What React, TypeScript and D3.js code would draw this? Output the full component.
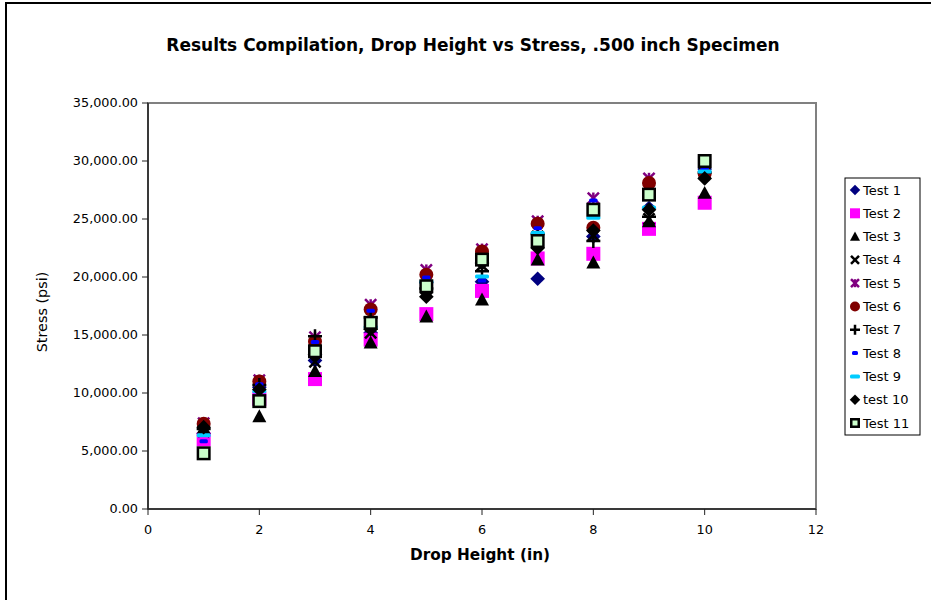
import React from "react";
import * as d3 from "d3";

// Drop heights (in) and measured stress (psi) per test run
const heights = [1, 2, 3, 4, 5, 6, 7, 8, 9, 10];
const test1 = [6500, 10500, 12800, 15200, 19500, 19600, 19850, 23500, 25950, 29300];
const test2 = [6000, 9500, 11200, 14600, 16800, 18800, 21600, 22000, 24150, 26400];
const test3 = [7000, 8000, 11900, 14350, 16600, 18050, 21500, 21250, 24800, 27250];
const test4 = [6700, 10600, 12700, 15200, 19000, 21000, 23500, 23600, 25000, 29000];
const test5 = [7400, 11100, 14800, 17600, 20600, 22400, 24800, 26800, 28500, 29300];
const test6 = [7350, 11000, 14450, 17200, 20200, 22200, 24600, 24250, 28100, 28900];
const test7 = [6900, 10700, 14900, 16500, 19000, 20500, 23700, 23100, 25200, 29000];
const test8 = [5850, 10750, 14400, 17100, 19950, 19700, 24200, 26600, 27500, 29300];
const test9 = [6350, 10150, 13200, 15700, 19600, 20050, 23800, 25100, 26000, 29100];
const test10 = [7050, 10300, 13300, 15500, 18300, 21200, 22500, 24000, 25800, 28500];
const test11 = [4800, 9300, 13600, 16050, 19200, 21500, 23100, 25800, 27100, 30000];

const seriesNames = ["Test 1", "Test 2", "Test 3", "Test 4", "Test 5", "Test 6", "Test 7", "Test 8", "Test 9", "test 10", "Test 11"];
const seriesValues = [test1, test2, test3, test4, test5, test6, test7, test8, test9, test10, test11];
const markerKinds = ["diamond", "square", "triangle", "x", "star", "circle", "plus", "dash", "longdash", "diamond", "boxed"];
const markerColors = ["#000080", "#FF00FF", "#000000", "#000000", "#800080", "#800000", "#000000", "#0000FF", "#00CCFF", "#000000", "#000000"];

const xTicks = [0, 2, 4, 6, 8, 10, 12];
const yTicks = [0, 5000, 10000, 15000, 20000, 25000, 30000, 35000];

const FONT = "'DejaVu Sans', Verdana, sans-serif";

function Marker({ kind, color, x, y, s }: { kind: string; color: string; x: number; y: number; s: number }) {
  const h = s / 2;
  switch (kind) {
    case "diamond":
      return <path d={`M${x},${y - h * 1.05}L${x + h * 1.05},${y}L${x},${y + h * 1.05}L${x - h * 1.05},${y}Z`} fill={color} />;
    case "square":
      return <rect x={x - h} y={y - h} width={s} height={s} fill={color} />;
    case "triangle":
      return <path d={`M${x},${y - h}L${x + h},${y + h * 0.85}L${x - h},${y + h * 0.85}Z`} fill={color} />;
    case "x":
      return (
        <path d={`M${x - h * 0.8},${y - h * 0.8}L${x + h * 0.8},${y + h * 0.8}M${x + h * 0.8},${y - h * 0.8}L${x - h * 0.8},${y + h * 0.8}`} stroke={color} strokeWidth={2.5} fill="none" />
      );
    case "star":
      return (
        <g stroke={color} fill="none">
          <path d={`M${x - h * 0.8},${y - h * 0.8}L${x + h * 0.8},${y + h * 0.8}M${x + h * 0.8},${y - h * 0.8}L${x - h * 0.8},${y + h * 0.8}`} strokeWidth={2.5} />
          <path d={`M${x},${y - h * 0.8}L${x},${y + h * 0.8}`} strokeWidth={2.5} />
        </g>
      );
    case "circle":
      return <circle cx={x} cy={y} r={h} fill={color} />;
    case "plus":
      return <path d={`M${x - h},${y}L${x + h},${y}M${x},${y - h}L${x},${y + h}`} stroke={color} strokeWidth={2.5} fill="none" />;
    case "dash":
      return <rect x={x - s * 0.3} y={y - 2} width={s * 0.6} height={4} rx={1.5} fill={color} />;
    case "longdash":
      return <rect x={x - h} y={y - 2} width={s} height={4} rx={1.5} fill={color} />;
    case "boxed":
      return <rect x={x - h + 1.25} y={y - h + 1.25} width={s - 2.5} height={s - 2.5} fill="#CCFFCC" stroke={color} strokeWidth={2.5} />;
    default:
      return null;
  }
}

export default function App() {
  const W = 931;
  const H = 600;
  const left = 148;
  const right = 816;
  const top = 103;
  const bottom = 509;

  const x = d3.scaleLinear().domain([0, 12]).range([left, right]);
  const y = d3.scaleLinear().domain([0, 35000]).range([bottom, top]);
  const fmt = d3.format(",.2f");

  const legendX = 845;
  const legendY = 178;
  const legendRow = 23.3;

  return (
    <svg width={W} height={H} style={{ position: "absolute", left: 0, top: 0, background: "#fff" }} fontFamily={FONT}>
      <rect x={0} y={0} width={W} height={H} fill="#fff" />
      <rect x={6} y={3} width={1000} height={700} fill="none" stroke="#000" strokeWidth={2} />

      <text x={473} y={51} textAnchor="middle" fontSize={17} fontWeight="bold" fill="#000">
        Results Compilation, Drop Height vs Stress, .500 inch Specimen
      </text>

      {/* plot frame */}
      <rect x={left} y={top} width={right - left} height={bottom - top} fill="#fff" stroke="#808080" strokeWidth={2} />
      <line x1={left} y1={top} x2={left} y2={bottom} stroke="#222" strokeWidth={1.5} />
      <line x1={left} y1={bottom} x2={right} y2={bottom} stroke="#222" strokeWidth={1.5} />

      {yTicks.map((t) => (
        <g key={"y" + t}>
          <line x1={left - 6} x2={left} y1={y(t)} y2={y(t)} stroke="#222" strokeWidth={1} />
          <text x={left - 10} y={y(t)} dy="0.35em" textAnchor="end" fontSize={12.8} fill="#000">
            {fmt(t)}
          </text>
        </g>
      ))}
      {xTicks.map((t) => (
        <g key={"x" + t}>
          <line x1={x(t)} x2={x(t)} y1={bottom} y2={bottom + 6} stroke="#222" strokeWidth={1} />
          <text x={x(t)} y={bottom + 21} dy="0.35em" textAnchor="middle" fontSize={12.8} fill="#000">
            {t}
          </text>
        </g>
      ))}

      <text x={480} y={560} textAnchor="middle" fontSize={15.3} fontWeight="bold" fill="#000">
        Drop Height (in)
      </text>
      <text transform={`translate(42,312) rotate(-90)`} textAnchor="middle" dy="0.35em" fontSize={14.4} fill="#000">
        Stress (psi)
      </text>

      {/* data points, drawn series by series */}
      {seriesValues.map((vals, si) => (
        <g key={"s" + si}>
          {vals.map((v, i) => (
            <Marker key={i} kind={markerKinds[si]} color={markerColors[si]} x={x(heights[i])} y={y(v)} s={14} />
          ))}
        </g>
      ))}

      {/* legend */}
      <rect x={legendX} y={legendY} width={75} height={257} fill="#fff" stroke="#000" strokeWidth={1} />
      {seriesNames.map((n, i) => {
        const cy = legendY + 12 + i * legendRow;
        return (
          <g key={"l" + i}>
            <Marker kind={markerKinds[i]} color={markerColors[i]} x={855} y={cy} s={10} />
            <text x={863} y={cy} dy="0.35em" fontSize={13} fill="#000">
              {n}
            </text>
          </g>
        );
      })}
    </svg>
  );
}
